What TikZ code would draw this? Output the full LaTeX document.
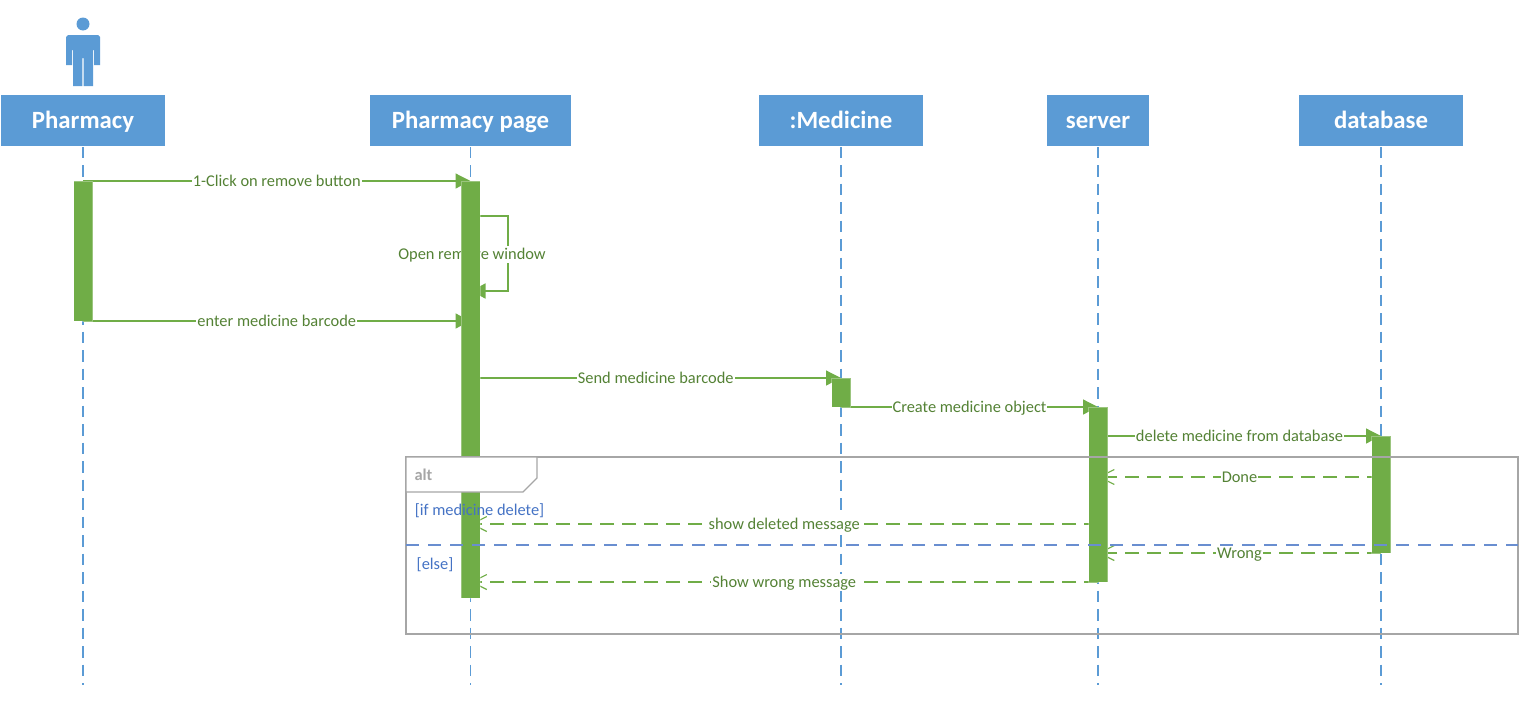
\documentclass[tikz,border=0pt]{standalone}
\usepackage{fontspec}
\setmainfont{Carlito}
\usetikzlibrary{positioning,arrows.meta,backgrounds}
\definecolor{headblue}{HTML}{5B9BD5}
\definecolor{barfill}{HTML}{70AD47}
\definecolor{msgtext}{HTML}{548235}
\definecolor{guardblue}{HTML}{4472C4}
\definecolor{framegray}{HTML}{A6A6A6}
\tikzset{
  lifehead/.style={rectangle,fill=headblue,draw=white,line width=.5pt,text=white,font=\fontsize{24.8}{28}\bfseries\selectfont,minimum height=52pt,text height=18pt,text depth=3pt,outer sep=0pt,inner sep=0pt},
  lifeline/.style={draw=headblue,line width=1.2pt,dash pattern=on 11.5pt off 7pt},
  activebar/.style={rectangle,fill=barfill,draw=white,draw opacity=.3,line width=.5pt,minimum width=19pt,outer sep=0pt,inner sep=0pt},
  callmsg/.style={draw=barfill,line width=1.2pt,-{Triangle[length=15pt,width=15pt,fill=barfill]}},
  replymsg/.style={draw=barfill,line width=1.2pt,dash pattern=on 14pt off 8pt,-{Straight Barb[length=15pt,width=15pt]}},
  msglabel/.style={fill=white,text=msgtext,font=\fontsize{16.4}{18}\selectfont,text height=13pt,text depth=2pt,inner sep=1pt},
  guard/.style={text=guardblue,font=\fontsize{16.4}{18}\selectfont,inner sep=0pt}
}
\begin{document}
\begin{tikzpicture}[x=1pt,y=-1pt]
    \useasboundingbox (0,0) rectangle (1535,712);
    % the person above the first box
    \fill[headblue] (83,24) circle (6.5);
    \fill[headblue] (68,35) -- (98,35) -- (100,37) -- (100,65) -- (94,65) -- (94,50) -- (93,50) -- (93,86) -- (83.7,86) -- (83.7,58) -- (82.3,58) -- (82.3,86) -- (73,86) -- (73,50) -- (72,50) -- (72,65) -- (66,65) -- (66,37) -- cycle;
    \node[lifehead, minimum width=165pt] (userHead) at (83,120.5) {Pharmacy};
    \node[lifehead, minimum width=202pt, right=204pt of userHead] (pageHead) {Pharmacy page};
    \node[lifehead, minimum width=165pt, right=187pt of pageHead] (medicineHead) {:Medicine};
    \node[lifehead, minimum width=103pt, right=123pt of medicineHead] (serverHead) {server};
    \node[lifehead, minimum width=165pt, right=149pt of serverHead] (databaseHead) {database};
    \node[activebar, minimum height=140pt, below=34.5pt of userHead] (userBar) {};
    \node[activebar, minimum height=417pt, below=34.5pt of pageHead] (pageBar) {};
    \node[activebar, minimum height=29pt, below=231.5pt of medicineHead] (medicineBar) {};
    \node[activebar, minimum height=175pt, below=260.5pt of serverHead] (serverBar) {};
    \node[activebar, minimum height=117pt, below=289.5pt of databaseHead] (databaseBar) {};
    \coordinate (userEnd) at (userHead |- 0,685);
    \coordinate (pageEnd) at (pageHead |- 0,685);
    \coordinate (medicineEnd) at (medicineHead |- 0,685);
    \coordinate (serverEnd) at (serverHead |- 0,685);
    \coordinate (databaseEnd) at (databaseHead |- 0,685);
    \coordinate (selfStart) at (pageHead |- 0,216);
    \coordinate (selfA) at (508,216);
    \coordinate (selfB) at (508,291);
    \coordinate (selfEnd) at (pageHead |- 0,291);
    \coordinate (doneFrom) at (databaseHead |- 0,477);
    \coordinate (doneTo) at (serverHead |- 0,477);
    \coordinate (deletedFrom) at (serverHead |- 0,524);
    \coordinate (deletedTo) at (pageHead |- 0,524);
    \begin{pgfonlayer}{background}
    \path[lifeline]
    (userHead.south) edge (userEnd)
    (pageHead.south) edge (pageEnd)
    (medicineHead.south) edge (medicineEnd)
    (serverHead.south) edge (serverEnd)
    (databaseHead.south) edge (databaseEnd);
    \path
    (userBar.north) edge[callmsg] node[msglabel] {1-Click on remove button} (pageBar.north)
    (userBar.south) edge[callmsg] node[msglabel] {enter medicine barcode} (userBar.south -| pageBar)
    (medicineBar.north -| pageBar) edge[callmsg] node[msglabel] {Send medicine barcode} (medicineBar.north)
    (medicineBar.south) edge[callmsg] node[msglabel] {Create medicine object} (serverBar.north)
    (databaseBar.north -| serverBar) edge[callmsg] node[msglabel] {delete medicine from database} (databaseBar.north)
    (doneFrom) edge[replymsg] node[msglabel] {Done} (doneTo)
    (deletedFrom) edge[replymsg] node[msglabel] {show deleted message} (deletedTo)
    (databaseBar.south) edge[replymsg] node[msglabel] {Wrong} (databaseBar.south -| serverBar)
    (serverBar.south) edge[replymsg] node[msglabel] {Show wrong message} (serverBar.south -| pageBar);
    \draw[callmsg] (selfStart) -- (selfA) -- (selfB) -- (selfEnd);
    \node[msglabel] (selfLabel) at (472,254) {Open remove window};
    \end{pgfonlayer}
    % alt frame
    \draw[framegray, line width=1.2pt] (406,457) rectangle (1518,634);
    \draw[framegray, line width=1.2pt, fill=white] (406,457) -- (537,457) -- (537,478) -- (523,492) -- (406,492) -- cycle;
    \node[text=framegray, font=\fontsize{16.4}{18}\bfseries\selectfont, inner sep=0pt] (altLabel) at (423.5,475) {alt};
    \node[guard] (ifGuard) at (479.5,511) {[if medicine delete]};
    \node[guard] (elseGuard) at (435,564.5) {[else]};
    \coordinate (splitLeft) at (406,545);
    \coordinate (splitRight) at (1518,545);
    \draw[guardblue!80!white, line width=1.2pt, dash pattern=on 13pt off 9pt] (splitLeft) -- (splitRight);
\end{tikzpicture}
\end{document}
